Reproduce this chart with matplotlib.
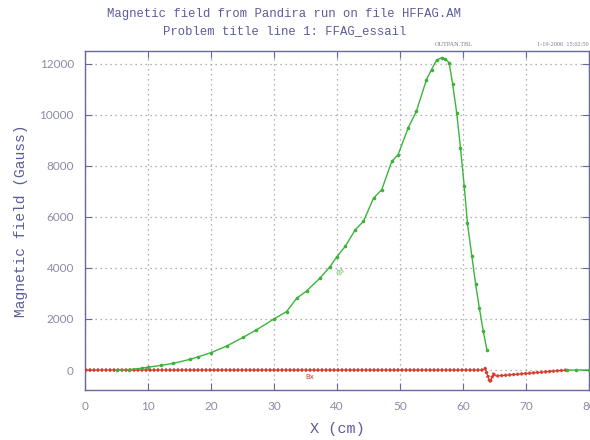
import numpy as np
import matplotlib
matplotlib.use("Agg")
import matplotlib.pyplot as plt

# By (green) curve, X in cm, field in Gauss
by_x = [5, 7, 9, 10, 12, 14, 16.7, 18, 20, 22.5, 25.1, 27.2, 30, 32, 33.6, 35.2,
        37.3, 38.9, 40, 41.3, 42.9, 44.2, 45.8, 47.1, 48.7, 49.7, 51.3, 52.6,
        54.2, 55, 55.8, 56.6, 57.2, 57.8, 58.35, 59.0, 59.6, 60.2, 60.7, 61.4,
        62.0, 62.6, 63.2, 63.8, np.nan, 76.5, 78, 80]
by_y = [0, 20, 70, 110, 180, 260, 420, 520, 680, 940, 1280, 1570, 2000, 2290,
        2810, 3100, 3600, 4050, 4440, 4840, 5490, 5820, 6730, 7060, 8170, 8430,
        9480, 10130, 11370, 11760, 12130, 12230, 12180, 12030, 11200, 10070,
        8700, 7190, 5750, 4470, 3370, 2420, 1540, 780, np.nan, 0, 0, 0]

# Bx (red) curve
bx_x = [0, 63.0, 63.5, 64.3, 64.8, 65.3, 76.5]
bx_y = [0, 0, 65, -480, -160, -235, 0]

x_ticks = [0, 10, 20, 30, 40, 50, 60, 70, 80]
y_ticks = [0, 2000, 4000, 6000, 8000, 10000, 12000]

title_color = "#5c5c9c"
tick_color = "#8a8aa6"
spine_color = "#6a6a9a"
green = "#3cb43c"
red = "#d23a2a"

fig = plt.figure(figsize=(5.9, 4.4), dpi=100)
ax = fig.add_axes([85/590, 50/440, 504/590, 339/440])

ax.plot(bx_x, bx_y, color=red, lw=1.0, zorder=3)
ax.plot(bx_x, bx_y, color=red, lw=2.4, linestyle=(0, (0.6, 0.6)), zorder=3)
ax.plot(by_x, by_y, color=green, lw=1.0, marker='o', ms=1.6, zorder=4)

ax.set_xlim(0, 80)
ax.set_ylim(-782, 12490)
ax.set_xticks(x_ticks)
ax.set_yticks(y_ticks)
ax.grid(True, linestyle=(0, (1, 3)), color="#9a9a9a", lw=0.9)
ax.tick_params(direction='in', length=5, color=spine_color, top=True, right=True,
               labelcolor=tick_color, labelsize=8.5)
ax.tick_params(axis='y', pad=8)
ax.tick_params(axis='x', pad=8)
for lab in ax.get_xticklabels() + ax.get_yticklabels():
    lab.set_family("Lato")
for s in ax.spines.values():
    s.set_color(spine_color)
    s.set_linewidth(1.0)

mono = "Liberation Mono"
ax.set_xlabel("X (cm)", family=mono, fontsize=11, color=title_color, labelpad=7)
ax.set_ylabel("Magnetic field (Gauss)", family=mono, fontsize=10.5, color=title_color, labelpad=8)

fig.text(0.482, 1 - 14/440, "Magnetic field from Pandira run on file HFFAG.AM",
         ha='center', va='center', family=mono, fontsize=8.8, color=title_color)
fig.text(0.482, 1 - 31/440, "Problem title line 1: FFAG_essail",
         ha='center', va='center', family=mono, fontsize=8.8, color=title_color)
fig.text(435/590, 1 - 45/440, "OUTPAN.TBL", ha='left', va='center',
         family="Liberation Serif", fontsize=4.5, color="#7a7a90")
fig.text(589/590, 1 - 45/440, "1-19-2006  15:02:50", ha='right', va='center',
         family="Liberation Serif", fontsize=4.5, color="#7a7a90")

ax.text(40.6, 3900, "By", color=green, fontsize=5, rotation=60,
        ha='center', va='center', alpha=0.8)
ax.text(35.7, -270, "Bx", color=red, fontsize=5, ha='center', va='center')

fig.savefig("out.png", dpi=100, facecolor="white")
